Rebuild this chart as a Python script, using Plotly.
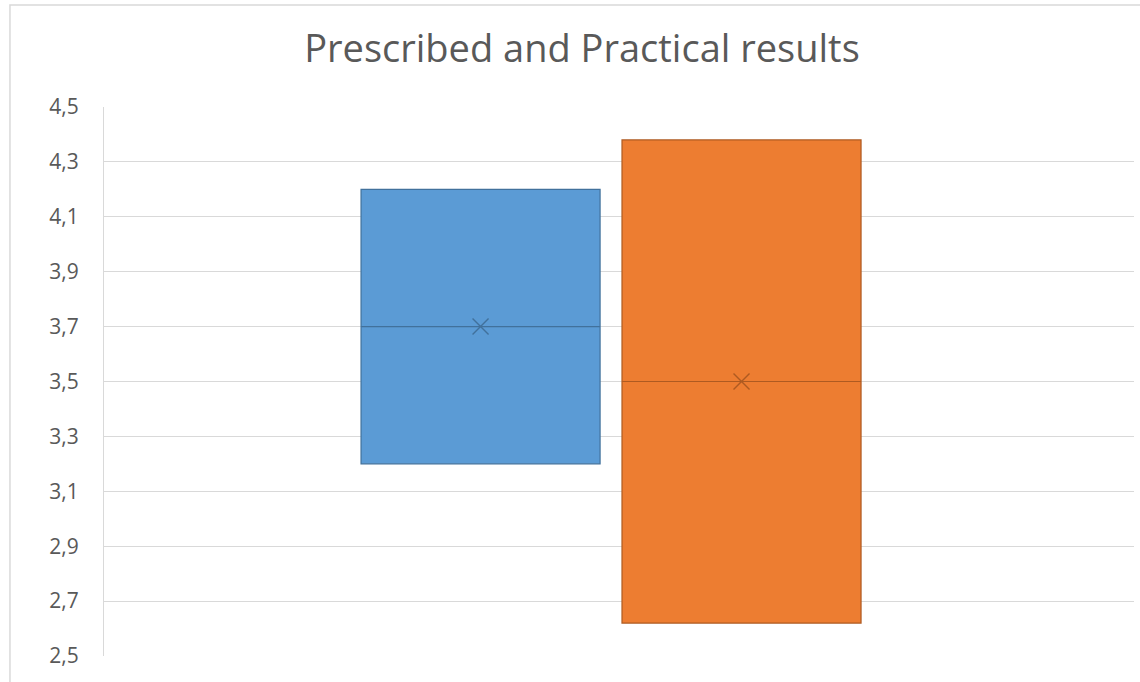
import plotly.graph_objects as go

# Summary statistics for each result set
series = ["Prescribed", "Practical"]
q1 = [3.2, 2.62]
median = [3.7, 3.5]
q3 = [4.2, 4.38]
mean = [3.7, 3.5]
fill_colors = ["#5B9BD5", "#ED7D31"]
edge_colors = ["#41719C", "#AE5A21"]
y_ticks = [2.5, 2.7, 2.9, 3.1, 3.3, 3.5, 3.7, 3.9, 4.1, 4.3, 4.5]

FONT = "Open Sans"
GRAY = "#595959"

fig = go.Figure()

for i, name in enumerate(series):
    fig.add_trace(go.Box(
        x=[name],
        q1=[q1[i]],
        median=[median[i]],
        q3=[q3[i]],
        lowerfence=[q1[i]],
        upperfence=[q3[i]],
        name=name,
        width=0.916,
        whiskerwidth=0,
        fillcolor=fill_colors[i],
        line=dict(color=edge_colors[i], width=1.2),
        hoverinfo="skip",
    ))
    fig.add_trace(go.Scatter(
        x=[name],
        y=[mean[i]],
        mode="markers",
        marker=dict(symbol="x-thin-open", size=16, color=edge_colors[i],
                    line=dict(color=edge_colors[i], width=1.4)),
        hoverinfo="skip",
    ))

# light frame around the chart area
fig.add_shape(type="rect", xref="paper", yref="paper",
              x0=-0.0913, x1=1.05, y0=-0.1, y1=1.1858,
              line=dict(color="#D9D9D9", width=1.5), fillcolor="rgba(0,0,0,0)",
              layer="below")

fig.update_layout(
    width=1140, height=682,
    margin=dict(l=104, r=6, t=107, b=26),
    paper_bgcolor="white",
    plot_bgcolor="white",
    showlegend=False,
    separators=", ",
    title=dict(text="Prescribed and Practical results",
               x=0.5105, xanchor="center", xref="container",
               y=0.928, yanchor="middle", yref="container",
               font=dict(family=FONT, size=38, color=GRAY)),
    xaxis=dict(
        type="category",
        range=[-1.443, 2.504],
        showticklabels=False,
        showgrid=False,
        zeroline=False,
        showline=False,
        ticks="",
        fixedrange=True,
    ),
    yaxis=dict(
        range=[2.5, 4.5],
        tickvals=y_ticks,
        tickformat=".1f",
        showgrid=True,
        gridcolor="#D9D9D9",
        gridwidth=1.2,
        zeroline=False,
        showline=True,
        linecolor="#D9D9D9",
        linewidth=1.2,
        ticks="",
        ticklabelstandoff=20,
        tickfont=dict(family=FONT, size=21, color=GRAY),
        fixedrange=True,
    ),
)

fig.write_html("out.html")
